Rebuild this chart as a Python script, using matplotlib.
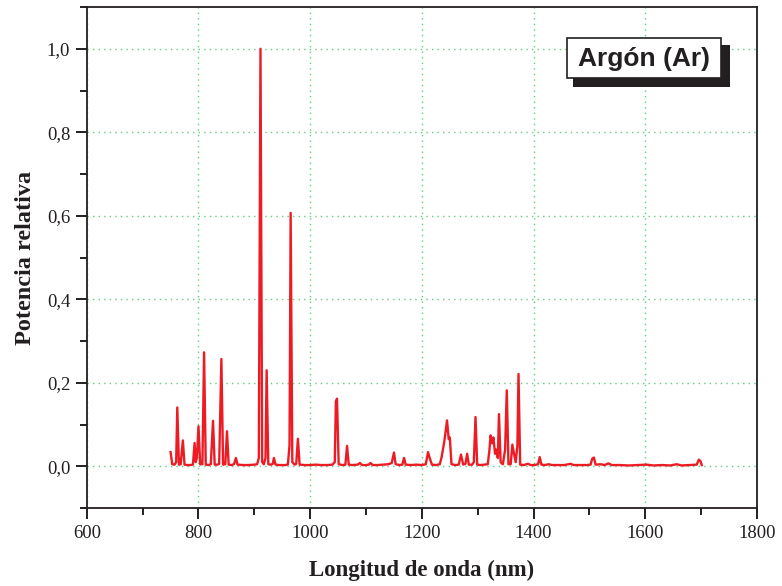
import numpy as np
import matplotlib.pyplot as plt
from matplotlib.ticker import MultipleLocator, FuncFormatter
from matplotlib.patches import Rectangle

# espectro del argon (longitud de onda en nm, potencia relativa)
longitud = [750, 753, 757, 760, 762, 765, 768, 772, 775, 780, 785, 790, 793, 795, 797,
            800, 803, 807, 810, 813, 818, 822, 826, 829, 834, 837, 841, 844, 848, 851,
            854, 860, 864, 867, 870, 880, 890, 900, 905, 908, 911, 914, 917, 920, 922,
            925, 930, 933, 935, 938, 945, 955, 960, 963, 965, 968, 972, 975, 978, 981,
            990, 1000, 1010, 1020, 1030, 1040, 1044, 1046, 1048, 1051, 1058, 1063, 1066,
            1069, 1075, 1085, 1089, 1093, 1100, 1105, 1108, 1112, 1120, 1130, 1140, 1146,
            1150, 1153, 1160, 1165, 1168, 1171, 1180, 1190, 1200, 1207, 1211, 1214, 1218,
            1225, 1232, 1235, 1240, 1245, 1248, 1250, 1253, 1260, 1266, 1270, 1274, 1278,
            1281, 1284, 1290, 1293, 1296, 1299, 1305, 1312, 1318, 1321, 1323, 1326, 1328,
            1331, 1333, 1336, 1338, 1341, 1345, 1349, 1352, 1355, 1359, 1362, 1365, 1368,
            1371, 1373, 1376, 1382, 1390, 1395, 1402, 1408, 1411, 1414, 1420, 1427, 1433,
            1445, 1455, 1466, 1472, 1485, 1495, 1502, 1505, 1508, 1511, 1520, 1527, 1534,
            1540, 1555, 1570, 1585, 1602, 1615, 1630, 1645, 1656, 1665, 1680, 1692, 1696,
            1699, 1701]
potencia = [0.034, 0.005, 0.004, 0.010, 0.141, 0.004, 0.005, 0.062, 0.004, 0.003, 0.003,
            0.004, 0.056, 0.010, 0.020, 0.096, 0.005, 0.005, 0.273, 0.004, 0.003, 0.005,
            0.109, 0.004, 0.004, 0.006, 0.257, 0.004, 0.005, 0.084, 0.004, 0.003, 0.006,
            0.020, 0.004, 0.003, 0.003, 0.004, 0.005, 0.020, 1.000, 0.010, 0.005, 0.020,
            0.230, 0.005, 0.004, 0.006, 0.020, 0.004, 0.003, 0.003, 0.004, 0.050, 0.607,
            0.010, 0.004, 0.006, 0.066, 0.004, 0.003, 0.003, 0.004, 0.003, 0.003, 0.004,
            0.010, 0.155, 0.162, 0.005, 0.003, 0.004, 0.049, 0.004, 0.003, 0.004, 0.008,
            0.003, 0.003, 0.004, 0.008, 0.003, 0.003, 0.004, 0.005, 0.008, 0.033, 0.005,
            0.003, 0.004, 0.020, 0.004, 0.003, 0.004, 0.003, 0.005, 0.034, 0.020, 0.004,
            0.003, 0.005, 0.020, 0.058, 0.110, 0.065, 0.069, 0.005, 0.003, 0.004, 0.028,
            0.004, 0.006, 0.030, 0.004, 0.004, 0.010, 0.118, 0.004, 0.003, 0.004, 0.005,
            0.040, 0.074, 0.055, 0.069, 0.030, 0.040, 0.020, 0.125, 0.010, 0.005, 0.040,
            0.182, 0.005, 0.005, 0.052, 0.030, 0.010, 0.050, 0.221, 0.004, 0.003, 0.006,
            0.003, 0.003, 0.005, 0.022, 0.004, 0.003, 0.005, 0.003, 0.003, 0.003, 0.006,
            0.003, 0.003, 0.003, 0.004, 0.018, 0.021, 0.004, 0.005, 0.003, 0.007, 0.003,
            0.003, 0.002, 0.003, 0.004, 0.002, 0.003, 0.002, 0.005, 0.002, 0.003, 0.004,
            0.016, 0.012, 0.003]

serif = ['Liberation Serif', 'DejaVu Serif']

fig = plt.figure(figsize=(7.82, 5.86), dpi=100)
ax = fig.add_axes([0.111, 0.133, 0.857, 0.855])

ax.plot(longitud, potencia, color='#ed1c24', lw=1.7, zorder=3)

ax.set_xlim(600, 1800)
ax.set_ylim(-0.1, 1.1)
ax.xaxis.set_major_locator(MultipleLocator(200))
ax.xaxis.set_minor_locator(MultipleLocator(100))
ax.yaxis.set_major_locator(MultipleLocator(0.2))
ax.yaxis.set_minor_locator(MultipleLocator(0.1))
ax.yaxis.set_major_formatter(FuncFormatter(lambda v, p: f'{v:.1f}'.replace('.', ',')))

ax.grid(True, which='major', color='#5ccf7a', linestyle=(0, (1, 3)), lw=1.0, zorder=0)

for s in ax.spines.values():
    s.set_linewidth(1.3)
    s.set_color('#231f20')
ax.tick_params(which='major', direction='out', length=8, width=1.4, color='#231f20',
               labelsize=13.5, pad=4)
ax.tick_params(which='minor', direction='out', length=5, width=1.4, color='#231f20')
for lab in ax.get_xticklabels() + ax.get_yticklabels():
    lab.set_family(serif)
    lab.set_color('#231f20')

ax.set_xlabel('Longitud de onda (nm)', family=serif, fontweight='bold', fontsize=16.5,
              labelpad=13, color='#231f20')
ax.set_ylabel('Potencia relativa', family=serif, fontweight='bold', fontsize=17.5,
              labelpad=8, color='#231f20')

# recuadro con sombra
ax.add_patch(Rectangle((0.725, 0.84), 0.235, 0.084, transform=ax.transAxes,
                       facecolor='#231f20', edgecolor='none', zorder=4))
ax.add_patch(Rectangle((0.716, 0.858), 0.231, 0.080, transform=ax.transAxes,
                       facecolor='white', edgecolor='#231f20', lw=1.2, zorder=5))
ax.text(0.8315, 0.897, 'Argón (Ar)', transform=ax.transAxes, ha='center', va='center',
        fontsize=19, fontweight='bold', family=['Liberation Sans', 'DejaVu Sans'],
        color='#231f20', zorder=6)

fig.savefig('out.png', dpi=100)
